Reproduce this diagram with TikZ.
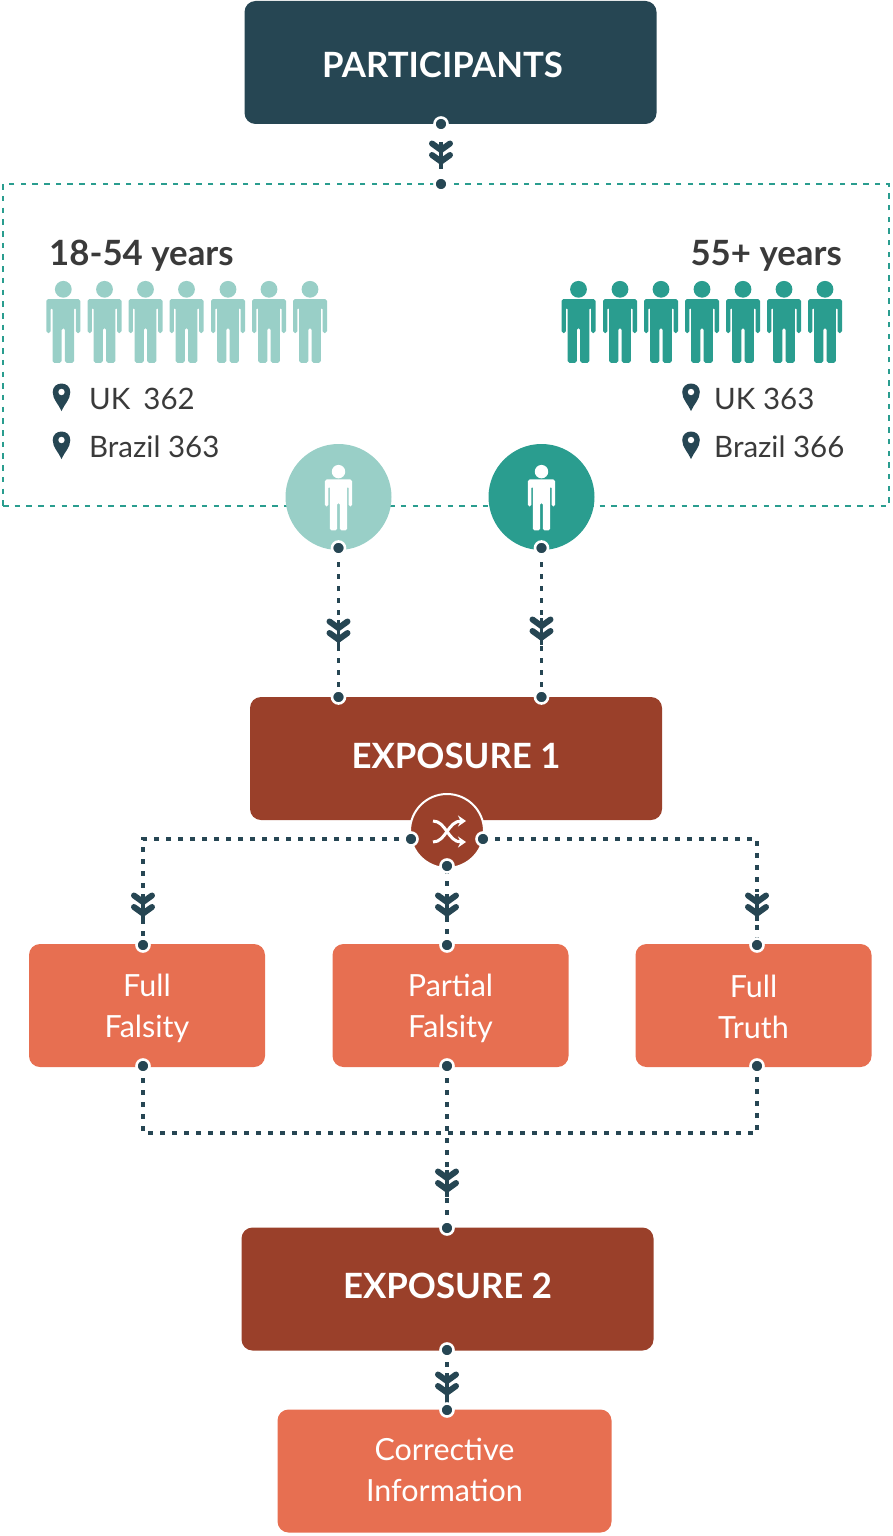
\documentclass[tikz,border=0pt]{standalone}
\usepackage{fontspec}
\setmainfont{Lato}
\usetikzlibrary{arrows.meta,calc}
\definecolor{navy}{HTML}{264653}
\definecolor{rust}{HTML}{9A402A}
\definecolor{coral}{HTML}{E76F51}
\definecolor{teal}{HTML}{2A9D8F}
\definecolor{mint}{HTML}{99CFC7}
\definecolor{ink}{HTML}{3A3A3A}
\tikzset{
  x=1pt,y=-1pt,
  box/.style={rectangle,rounded corners=11pt,inner sep=0pt,outer sep=0pt,minimum width=#1,minimum height=123pt},
  bigbox/.style={box=412pt,text=white,font=\fontsize{34.8}{40}\bfseries\selectfont},
  subbox/.style={box=236pt,fill=coral,text=white,align=center,font=\fontsize{30.5}{41}\selectfont},
  link/.style={draw=navy,line width=3.3pt,dash pattern=on 4.8pt off 7.2pt},
  dotnode/.style={circle,fill=navy,draw=white,line width=2.6pt,minimum size=13pt,inner sep=0pt},
  head/.style={anchor=base,text=ink,font=\fontsize{34.8}{40}\bfseries\selectfont},
  info/.style={anchor=base west,text=ink,font=\fontsize{29.5}{36}\selectfont},
  person/.pic={
    \path[pic actions] (0,8.3) circle[radius=8.4];
    \path[pic actions,rounded corners=1.8pt] (-17,18) -- (17,18) -- (17,52) -- (12.6,52) -- (12.6,26.5) -- (10.8,26.5) -- (10.8,81.8) -- (1.6,81.8) -- (1.6,47) -- (-1.6,47) -- (-1.6,81.8) -- (-10.8,81.8) -- (-10.8,26.5) -- (-12.6,26.5) -- (-12.6,52) -- (-17,52) -- cycle;
  },
  pin/.pic={
    \fill[navy] (0,14) .. controls (-3,7) and (-8.8,2.5) .. (-8.8,-5) .. controls (-8.8,-10.5) and (-4.5,-13.5) .. (0,-13.5) .. controls (4.5,-13.5) and (8.8,-10.5) .. (8.8,-5) .. controls (8.8,2.5) and (3,7) .. (0,14) -- cycle;
    \fill[white] (0,-5) circle[radius=3.2];
  },
  chev/.pic={
    \fill[white] (-13,-12) rectangle (13,12);
    \draw[navy,line width=6pt,line cap=round,line join=miter] (-9,-8.5) -- (0,-2) -- (9,-8.5);
    \draw[navy,line width=6pt,line cap=round,line join=miter] (-9,3) -- (0,9.5) -- (9,3);
    \draw[navy,line width=3.3pt] (0,-10) -- (0,17);
  }
}
\begin{document}
\begin{tikzpicture}
\useasboundingbox (0,0) rectangle (893,1536);
% main boxes
\node[bigbox,fill=navy] (part) at (450.5,62.5) {\rule{0pt}{31pt}\hspace*{-16pt}PARTICIPANTS};
\node[rectangle,draw=teal,line width=2.8pt,dash pattern=on 5.5pt off 6.2pt,inner sep=0pt,minimum width=886pt,minimum height=322pt] (group) at (446,345) {};
\node[circle,fill=mint,minimum size=106pt,inner sep=0pt] (young) at (338.5,497) {};
\node[circle,fill=teal,minimum size=106pt,inner sep=0pt] (old) at (541.5,497) {};
\node[bigbox,fill=rust] (exp1) at (456,758.5) {\rule[-6pt]{0pt}{1pt}EXPOSURE 1};
\node[subbox] (ff) at (147,1005.5) {\rule{0pt}{29pt}Full\\Falsity};
\node[subbox] (pf) at (450.5,1005.5) {\rule{0pt}{29pt}Partial\\Falsity};
\node[subbox] (ft) at (753.5,1005.5) {\rule{0pt}{26pt}Full\\Truth};
\node[bigbox,fill=rust] (exp2) at (447.5,1289) {\rule[-6pt]{0pt}{1pt}EXPOSURE 2};
\node[box=334pt,fill=coral,text=white,align=center,font=\fontsize{30.5}{41}\selectfont] (corr) at (444.5,1471) {Corrective\\Information\rule[-3pt]{0pt}{1pt}};
\node[circle,fill=rust,draw=white,line width=2pt,minimum size=74pt,inner sep=0pt] (shuf) at (447,831) {};
% shuffle icon
\draw[white,line width=3pt,-{Stealth[length=8pt,width=11pt]}] (433,821) .. controls (446,821) and (448,842) .. (466,842);
\draw[white,line width=3pt,-{Stealth[length=8pt,width=11pt]}] (433,842) .. controls (446,842) and (448,821) .. (466,821);
% people
\foreach \px in {63.3,104.5,145.5,186.5,228,269,310}
  \pic[fill=mint] at (\px,281) {person};
\foreach \px in {578.5,620,661,702,743,784,825}
  \pic[fill=teal] at (\px,281) {person};
\pic[fill=white,scale=0.8] at (338.5,465) {person};
\pic[fill=white,scale=0.8] at (541.5,465) {person};
% texts
\node[head,anchor=base west,inner sep=0pt] (h1) at (49,265) {18-54 years};
\node[head,anchor=base east,inner sep=0pt] (h2) at (842,265) {55+ years};
\node[info,inner sep=0pt] (t1) at (89,409) {UK\hspace{13pt}362};
\node[info,inner sep=0pt] (t2) at (89,457) {Brazil 363};
\node[info,inner sep=0pt] (t3) at (714,409) {UK 363};
\node[info,inner sep=0pt] (t4) at (714,457) {Brazil 366};
\pic at (61.5,397) {pin};
\pic at (61.5,445) {pin};
\pic at (691,397) {pin};
\pic at (691,445) {pin};
% connectors
\draw[link] ([xshift=-9.5pt]part.south) -- (part.south -| 441,184);
\draw[link] (young.south) -- (exp1.north -| young.south);
\draw[link] (old.south) -- (exp1.north -| old.south);
\draw[link] (411,839) -- (143,839) -- (143,945);
\draw[link] (shuf.south) -- (pf.north -| shuf.south);
\draw[link] (483,839) -- (757,839) -- (757,945);
\draw[link] (143,1066) -- (143,1133) -- (757,1133) -- (757,1066);
\draw[link] (447,1066) -- (447,1228);
\draw[link] (447,1350) -- (447,1410);
% chevrons
\pic at (441,152) {chev};
\pic at (338.5,630) {chev};
\pic at (541.5,628) {chev};
\pic at (143,904) {chev};
\pic at (447,904) {chev};
\pic at (757,904) {chev};
\pic at (447,1180) {chev};
\pic at (447,1383) {chev};
% connector end dots
\foreach \dx/\dy/\dn in {441/124/a,441/184/b,338.5/548/c,541.5/548/d,338.5/697/e,541.5/697/f,411/839/g,483/839/h,447/866/i,143/945/j,447/945/k,757/945/l,143/1066/m,447/1066/n,757/1066/o,447/1228/p,447/1350/q,447/1410/r}
  \node[dotnode] (dot\dn) at (\dx,\dy) {};
\end{tikzpicture}
\end{document}
